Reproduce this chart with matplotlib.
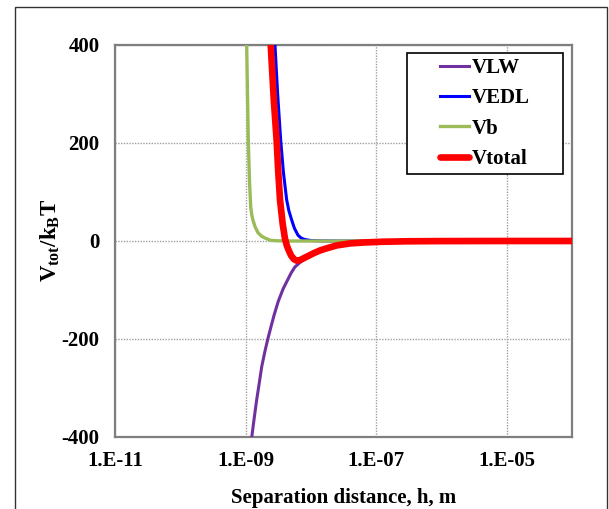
"""Interaction energy profile: VLW, VEDL, Vb and total vs separation distance."""
import matplotlib
matplotlib.use("Agg")
import matplotlib.pyplot as plt  # noqa: E402
from matplotlib.patches import Rectangle  # noqa: E402
from matplotlib.ticker import FixedLocator, FuncFormatter  # noqa: E402

plt.rcParams["font.family"] = ["Liberation Serif", "DejaVu Serif"]
plt.rcParams["font.weight"] = "bold"
plt.rcParams["axes.unicode_minus"] = False
plt.rcParams["mathtext.fontset"] = "custom"
plt.rcParams["mathtext.rm"] = "Liberation Serif:bold"
plt.rcParams["mathtext.it"] = "Liberation Serif:bold"
plt.rcParams["mathtext.bf"] = "Liberation Serif:bold"

# values (h in m, energy in kBT)
h_vlw = [1.10e-9, 1.245e-9, 1.36e-9, 1.48e-9, 1.62e-9, 1.77e-9, 1.98e-9, 2.21e-9,
         2.45e-9, 2.75e-9, 3.17e-9, 3.75e-9, 4.46e-9, 5.0e-9, 5.7e-9, 6.8e-9,
         8.1e-9, 1.1e-8, 1.4e-8, 1.74e-8, 2.5e-8, 3.94e-8, 6.5e-8, 1.26e-7,
         3e-7, 1e-6, 1e-5, 1e-4]
v_vlw = [-480, -400, -360, -324, -290, -256, -225, -198, -175, -150, -123, -98,
         -78, -65, -53, -44, -36, -26, -20, -15, -9, -5, -3, -1.5,
         -0.6, -0.2, 0, 0]

h_edl = [2.6e-9, 2.82e-9, 3.1e-9, 3.45e-9, 3.8e-9, 4.26e-9, 4.6e-9, 5.08e-9,
         5.6e-9, 6.34e-9, 7.1e-9, 8.1e-9, 1.0e-8, 1.39e-8, 3e-8, 1e-7,
         1e-6, 1e-5, 1e-4]
v_edl = [520, 400, 300, 206, 140, 84, 62, 43, 26, 12, 6, 3, 1, 0.3, 0, 0,
         0, 0, 0]

h_vb = [0.99e-9, 1.04e-9, 1.07e-9, 1.10e-9, 1.15e-9, 1.20e-9, 1.25e-9, 1.30e-9,
        1.40e-9, 1.55e-9, 1.75e-9, 1.99e-9, 2.4e-9, 3e-9, 4.8e-9, 1e-8,
        1e-7, 1e-6, 1e-5, 1e-4]
v_vb = [560, 400, 300, 206, 120, 69, 52, 42, 29, 17, 10, 6, 1.5, 0.5, 0, 0,
        0, 0, 0, 0]

h_tot = [2.2e-9, 2.43e-9, 2.7e-9, 2.99e-9, 3.17e-9, 3.37e-9, 3.7e-9, 4.01e-9,
         4.3e-9, 4.61e-9, 5.0e-9, 5.5e-9, 6.05e-9, 6.8e-9, 8.1e-9, 1.1e-8,
         1.4e-8, 1.74e-8, 2.5e-8, 3.94e-8, 6.5e-8, 1.26e-7, 3e-7, 1e-6,
         1e-5, 1e-4]
v_tot = [500, 400, 290, 206, 140, 84, 35, 5, -10, -20, -30, -37, -40, -39,
         -34, -25, -19, -15, -9, -5, -3, -1.5, -0.6, -0.2, 0, 0]

x_ticks = [1e-11, 1e-9, 1e-7, 1e-5]
x_ticklabels = ["1.E-11", "1.E-09", "1.E-07", "1.E-05"]
y_ticks = [-400, -200, 0, 200, 400]

FS = 15

fig = plt.figure(figsize=(6.09, 5.09), dpi=100)
ax = fig.add_axes([115 / 609, 1 - 437 / 509, 457 / 609, 392 / 509])

ax.plot(h_vlw, v_vlw, color="#7030A0", lw=2.2, label="VLW", zorder=3)
ax.plot(h_edl, v_edl, color="#0000FF", lw=2.2, label="VEDL", zorder=3)
ax.plot(h_vb, v_vb, color="#9BBB59", lw=2.4, label="Vb", zorder=3)
ax.plot(h_tot, v_tot, color="#FF0000", lw=4.8, label="Vtotal", zorder=4,
        solid_capstyle="round")

ax.set_xscale("log")
ax.set_xlim(1e-11, 1e-4)
ax.set_ylim(-400, 400)
ax.xaxis.set_major_locator(FixedLocator(x_ticks))
ax.xaxis.set_major_formatter(FuncFormatter(
    lambda v, pos: x_ticklabels[x_ticks.index(v)] if v in x_ticks else ""))
ax.xaxis.set_minor_locator(FixedLocator([]))
ax.set_yticks(y_ticks)
ax.tick_params(axis="both", length=0, labelsize=FS)
ax.tick_params(axis="x", pad=10)
ax.tick_params(axis="y", pad=11)
for lab in ax.get_xticklabels() + ax.get_yticklabels():
    lab.set_fontweight("bold")

ax.grid(True, which="major", ls=(0, (1, 1)), color="#a0a0a0", lw=1.0)
for sp in ax.spines.values():
    sp.set_color("#7f7f7f")
    sp.set_linewidth(1.6)

ax.set_xlabel("Separation distance, h, m", fontsize=FS, fontweight="bold",
              labelpad=12)
ax.set_ylabel(r"$V_{tot}/k_{B}T$", fontsize=FS + 1.5, labelpad=0)

# legend: Excel-style box wider than its entries
fig.patches.append(Rectangle((407 / 609, 1 - 174 / 509), 156 / 609, 121 / 509,
                             transform=fig.transFigure, facecolor="white",
                             edgecolor="black", lw=1.2, zorder=5))
handles, labels = ax.get_legend_handles_labels()
leg = fig.legend(handles, labels, loc="center",
                 bbox_to_anchor=(485 / 609, 1 - 113.5 / 509), fontsize=FS,
                 frameon=False, handlelength=1.4, handletextpad=0.15,
                 labelspacing=0.5, borderpad=0, borderaxespad=0)
leg.set_zorder(6)
for t in leg.get_texts():
    t.set_fontweight("bold")

# outer frame around the chart
fig.patches.append(Rectangle((15 / 609, -0.05), 592 / 609, 1.05 - 7 / 509,
                             transform=fig.transFigure, fill=False,
                             edgecolor="#333333", lw=1.0))

fig.savefig("out.png", dpi=100)
